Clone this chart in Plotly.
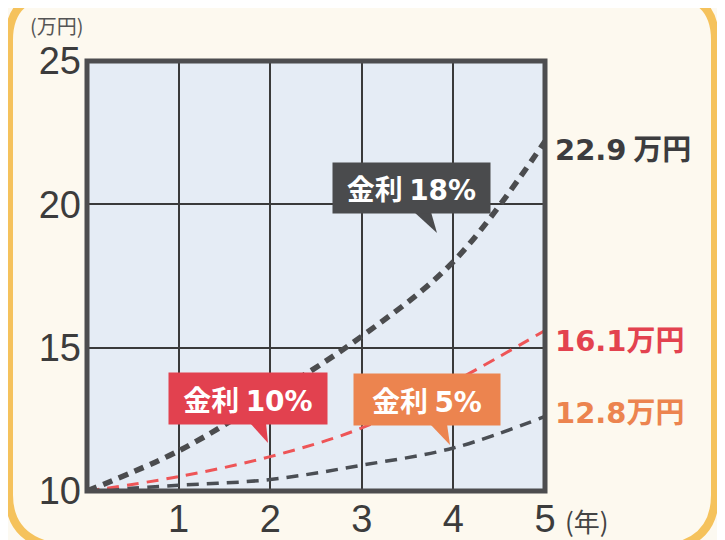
import plotly.graph_objects as go

# ---- data ----
years = [0, 1, 2, 3, 4, 5]
rate18 = [10, 11.4, 13.3, 15.4, 18.0, 22.2]
rate10 = [10, 10.5, 11.2, 12.2, 13.8, 15.6]
rate5 = [10, 10.2, 10.4, 10.9, 11.5, 12.6]
series_names = ["金利", "金利", "金利"]
series_rates = ["18%", "10%", "5%"]
end_values = ["22.9", "16.1", "12.8"]
end_units = [" 万円", "万円", "万円"]
x_ticks = [1, 2, 3, 4, 5]
y_ticks = [10, 15, 20, 25]

# ---- layout geometry (reference pixels) ----
W, H = 725, 540
OFF = 8  # page body margin of the browser
L, R, T, B = 87, 545, 61, 491


def X(px):
    return (px - L) / (R - L)


def Y(py):
    return (B - py) / (B - T)


DARK = "#4b4c4e"
RED = "#e3424f"
REDLINE = "#ee5557"
ORANGE = "#ec844f"
CJK = "Noto Sans CJK JP, Noto Sans CJK SC, sans-serif"
NUMB = "DejaVu Sans"
NUM = "Liberation Sans Narrow, Liberation Sans, Arial, sans-serif"

fig = go.Figure()
fig.add_trace(go.Scatter(x=years, y=rate5, mode="lines", line=dict(color="#4a4e54", width=3.5, dash="12px,8px", shape="spline"), name="5%"))
fig.add_trace(go.Scatter(x=years, y=rate10, mode="lines", line=dict(color=REDLINE, width=3, dash="12px,8px", shape="spline"), name="10%"))
fig.add_trace(go.Scatter(x=years, y=rate18, mode="lines", line=dict(color=DARK, width=5.5, dash="10px,7px", shape="spline"), name="18%"))

shapes = []
# outer rounded frame
path = (f"M {X(80)},{Y(549)} Q {X(9)},{Y(549)} {X(9)},{Y(495)} L {X(9)},{Y(40)} Q {X(9)},{Y(-5)} {X(54)},{Y(-5)} "
        f"L {X(670)},{Y(-5)} Q {X(715)},{Y(-5)} {X(715)},{Y(40)} L {X(715)},{Y(495)} Q {X(715)},{Y(549)} {X(650)},{Y(549)} Z")
shapes.append(dict(type="path", xref="paper", yref="paper", path=path,
                   fillcolor="#fdf9ef", line=dict(color="#f5c25c", width=8), layer="below"))
# plot background
shapes.append(dict(type="rect", xref="paper", yref="paper", x0=0, x1=1, y0=0, y1=1,
                   fillcolor="#e5ecf5", line=dict(width=0), layer="below"))
# frame
shapes.append(dict(type="rect", xref="paper", yref="paper", x0=0, x1=1, y0=0, y1=1,
                   line=dict(color="#4d4d4f", width=5), layer="above"))

# callout boxes: (name, rate, color, cx, cy, w, h, tail)
boxes = [
    (series_names[0], series_rates[0], "#4a4b4d", 411, 188, 157, 50, [(414, 212), (437, 233), (431, 212)]),
    (series_names[1], series_rates[1], "#e2414f", 248, 398, 158, 51, [(250, 423), (268, 443), (266, 423)]),
    (series_names[2], series_rates[2], ORANGE, 427, 399, 146, 51, [(430, 424), (450, 445), (447, 424)]),
]
annotations = []
for name, rate, col, cx, cy, w, h, tail in boxes:
    p = "M " + " L ".join(f"{X(a)},{Y(b)}" for a, b in tail) + " Z"
    shapes.append(dict(type="path", xref="paper", yref="paper", path=p,
                       fillcolor=col, line=dict(width=0), layer="above"))
    annotations.append(dict(xref="paper", yref="paper", x=X(cx), y=Y(cy), xanchor="center", yanchor="middle",
                            text=f"<b>{name}</b> <b><span style='font-family:{NUMB}'>{rate}</span></b>",
                            showarrow=False, bgcolor=col, width=w - 6, height=h - 6,
                            borderpad=3, font=dict(family=CJK, size=28, color="white")))

# end labels
for val, unit, col, py in zip(end_values, end_units, ["#3c3c3e", RED, ORANGE], [147, 338, 410]):
    annotations.append(dict(xref="paper", yref="paper", x=X(553), y=Y(py), xanchor="left", yanchor="middle",
                            text=f"<b><span style='font-family:{NUMB}'>{val}</span>{unit}</b>", showarrow=False,
                            font=dict(family=CJK, size=29, color=col)))

annotations.append(dict(xref="paper", yref="paper", x=X(28), y=Y(9), xanchor="left", yanchor="top",
                        text="(万円)", showarrow=False, font=dict(family=CJK, size=20, color="#555")))
annotations.append(dict(xref="paper", yref="paper", x=X(563), y=Y(520), xanchor="left", yanchor="middle",
                        text="(年)", showarrow=False, font=dict(family=CJK, size=26, color="#444")))

fig.update_layout(
    width=W, height=H,
    margin=dict(l=L - OFF, r=W - (R - OFF), t=T - OFF, b=H - (B - OFF), pad=0, autoexpand=False),
    paper_bgcolor="#fcf9f1",
    plot_bgcolor="rgba(0,0,0,0)",
    showlegend=False,
    shapes=shapes,
    annotations=annotations,
    xaxis=dict(range=[0, 5], tickvals=x_ticks, ticktext=[str(v) for v in x_ticks],
               showgrid=True, gridcolor="#3a3a3a", gridwidth=1.5, zeroline=False, showline=False,
               ticks="", ticklabelstandoff=2, automargin=False,
               tickfont=dict(family=NUM, size=38, color="#3c3c3c")),
    yaxis=dict(range=[10, 25], tickvals=y_ticks, ticktext=[str(v) for v in y_ticks],
               showgrid=True, gridcolor="#3a3a3a", gridwidth=1.5, zeroline=False, showline=False,
               ticks="", ticklabelstandoff=5, automargin=False,
               tickfont=dict(family=NUM, size=38, color="#3c3c3c")),
)

fig.write_html("out.html")
